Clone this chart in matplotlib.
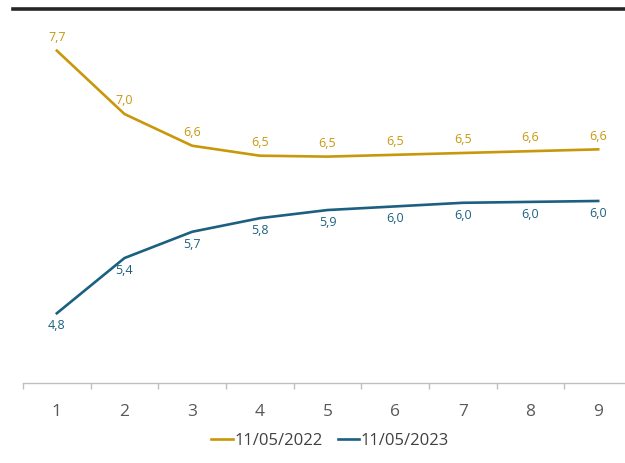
import matplotlib.pyplot as plt
from matplotlib.lines import Line2D

plt.rcParams['font.family'] = ['Open Sans', 'DejaVu Sans']

# horizon (years) and the two curves
horizon = [1, 2, 3, 4, 5, 6, 7, 8, 9]
curve_2022 = [7.67, 6.97, 6.62, 6.51, 6.50, 6.52, 6.54, 6.56, 6.58]
curve_2023 = [4.77, 5.38, 5.67, 5.82, 5.91, 5.95, 5.99, 6.00, 6.01]
series_names = ['11/05/2022', '11/05/2023']

gold = '#C8980A'
blue = '#1B6080'

W, H = 625, 463
fig = plt.figure(figsize=(W / 100, H / 100), dpi=100)
ax = fig.add_axes([23 / W, 1 - 383 / H, 609 / W, (383 - 9) / H])

ax.plot(horizon, curve_2022, color=gold, lw=1.9, label=series_names[0])
ax.plot(horizon, curve_2023, color=blue, lw=1.9, label=series_names[1])


def fmt(v):
    return f'{v:.1f}'.replace('.', ',')


for x, v in zip(horizon, curve_2022):
    ax.annotate(fmt(v), (x, v), xytext=(0, 9.5), textcoords='offset points',
                ha='center', va='center', color=gold, fontsize=9)
for x, v in zip(horizon, curve_2023):
    ax.annotate(fmt(v), (x, v), xytext=(0, -9), textcoords='offset points',
                ha='center', va='center', color=blue, fontsize=9)

ax.set_xlim(0.5, 9.5)
ax.set_ylim(4.0, 8.13)
ax.set_yticks([])
ax.set_xticks(horizon)
ax.set_xticks([i + 0.5 for i in range(0, 10)], minor=True)
ax.tick_params(axis='x', which='major', length=0, pad=15, labelsize=12.5,
               labelcolor='#595959')
ax.tick_params(axis='x', which='minor', length=4.5, width=1, color='#BFBFBF')
for side in ['top', 'left', 'right']:
    ax.spines[side].set_visible(False)
ax.spines['bottom'].set_color('#BFBFBF')
ax.spines['bottom'].set_linewidth(1)

# dark rule across the top
fig.add_artist(Line2D([13 / W, 1.0], [1 - 9 / H, 1 - 9 / H], color='#262626',
                      lw=2.6, transform=fig.transFigure))

fig.legend(loc='center', bbox_to_anchor=(330 / W, 1 - 441 / H), ncol=2,
           frameon=False, handlelength=1.3, handletextpad=0.1,
           columnspacing=0.9, fontsize=12, labelcolor='#404040')

fig.savefig('out.png', dpi=100)
